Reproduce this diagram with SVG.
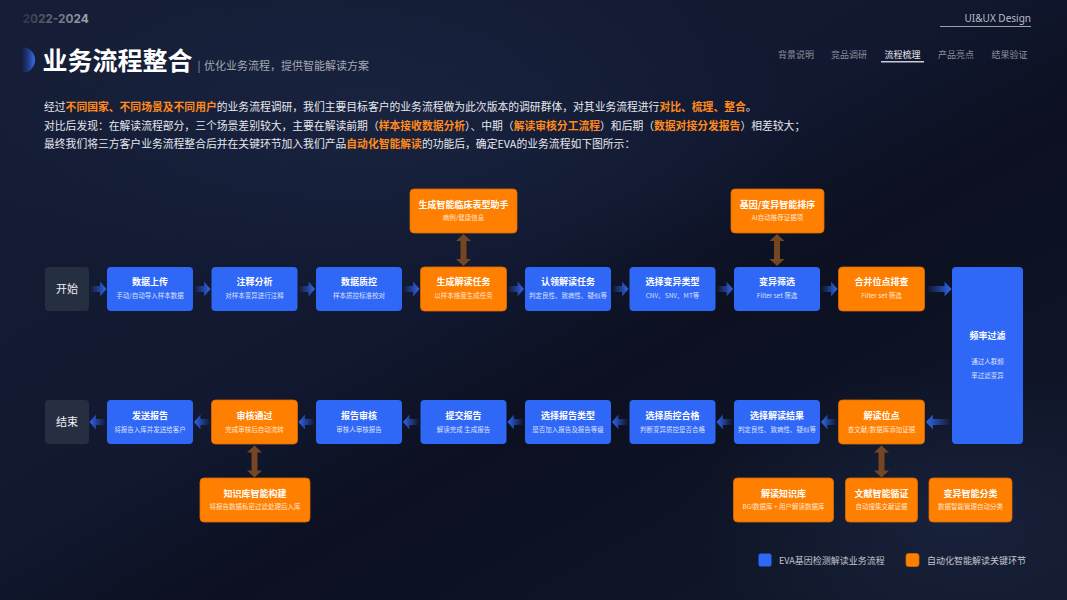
<svg xmlns="http://www.w3.org/2000/svg" width="1067" height="600" viewBox="0 0 1067 600">
<defs>
<linearGradient id="bg" x1="0" y1="0" x2="1" y2="1">
<stop offset="0" stop-color="#161e37"/>
<stop offset="0.45" stop-color="#111830"/>
<stop offset="0.6" stop-color="#0c1020"/>
<stop offset="1" stop-color="#121a2e"/>
</linearGradient>
<radialGradient id="glow1" cx="0.5" cy="0.5" r="0.5">
<stop offset="0" stop-color="#1e2a48" stop-opacity="0.55"/>
<stop offset="1" stop-color="#1e2a48" stop-opacity="0"/>
</radialGradient>
<linearGradient id="ag" x1="0" y1="0" x2="1" y2="0">
<stop offset="0" stop-color="#2e5fe0" stop-opacity="0"/>
<stop offset="1" stop-color="#3266ee"/>
</linearGradient>
<linearGradient id="yr" x1="0" y1="0" x2="1" y2="0">
<stop offset="0" stop-color="#2c3345"/>
<stop offset="1" stop-color="#a3a8b4"/>
</linearGradient>
<linearGradient id="semi" x1="0" y1="0" x2="1" y2="0">
<stop offset="0" stop-color="#1d3c9a" stop-opacity="0.1"/>
<stop offset="1" stop-color="#3d70f8"/>
</linearGradient>
<path id="arr" d="M0,-3 H10 V-7.5 L16.5,0 L10,7.5 V3 H0 Z" fill="url(#ag)"/>
<path id="arrL" d="M0,-3 H18 V-7.5 L25,0 L18,7.5 V3 H0 Z" fill="url(#ag)"/>
<path id="dbl" d="M0,0 L7.5,7 H3 V25 H7.5 L0,32 L-7.5,25 H-3 V7 H-7.5 Z" fill="#744622"/>
</defs>
<style>
.b{fill:#2f67f6}
.o{fill:#ff8000;stroke:#d86a05;stroke-width:0.8}
.g{fill:#262e41}
.t{font-family:"Noto Sans CJK SC","Noto Sans",sans-serif;font-weight:700;font-size:9px;fill:#ffffff;text-anchor:middle}
.s{font-family:"Noto Sans CJK SC","Noto Sans",sans-serif;font-size:6.5px;fill:#ffffff;fill-opacity:0.82;text-anchor:middle}
.se{font-family:"Noto Sans CJK SC","Noto Sans",sans-serif;font-size:11px;fill:#eef0f5;text-anchor:middle}
.nav{font-family:"Noto Sans CJK SC","Noto Sans",sans-serif;font-size:9px;fill:#8c909b;text-anchor:middle}
.p{font-family:"Noto Sans CJK SC","Noto Sans",sans-serif;font-size:10.8px;fill:#e6e8ee}
.h{fill:#ff8a1c;font-weight:700}
.lg{font-family:"Noto Sans CJK SC","Noto Sans",sans-serif;font-size:9px;fill:#c4c7cf}
</style>
<rect width="1067" height="600" fill="url(#bg)"/>
<ellipse cx="380" cy="120" rx="420" ry="180" fill="url(#glow1)"/>
<ellipse cx="950" cy="520" rx="260" ry="150" fill="url(#glow1)"/>

<g id="header">
<text x="22.5" y="23.3" font-family="Inter,'Liberation Sans',sans-serif" font-weight="700" font-size="11.8" fill="url(#yr)">2022-2024</text>
<text x="1031" y="21.5" font-family="'Noto Sans',sans-serif" font-size="10" fill="#b9bdc7" text-anchor="end">UI&amp;UX Design</text>
<line x1="940" y1="26.5" x2="1031" y2="26.5" stroke="#9aa0ad" stroke-width="1"/>
<text class="nav" x="796" y="58">背景说明</text>
<text class="nav" x="849" y="58">竞品调研</text>
<text class="nav" x="902.5" y="58" style="fill:#e8eaf0">流程梳理</text>
<line x1="881" y1="61.8" x2="924" y2="61.8" stroke="#c8ccd5" stroke-width="1.5"/>
<text class="nav" x="956" y="58">产品亮点</text>
<text class="nav" x="1009.5" y="58">结果验证</text>
<path d="M22,47 A13,13 0 0 1 22,73 Z" fill="url(#semi)"/>
<text x="42.5" y="70" font-family="'Noto Sans CJK SC',sans-serif" font-weight="700" font-size="25" fill="#ffffff">业务流程整合</text>
<text x="197.5" y="69.5" font-family="'Noto Sans CJK SC',sans-serif" font-size="11" fill="#9a9ea9">|</text>
<text x="204" y="69.5" font-family="'Noto Sans CJK SC',sans-serif" font-size="11" fill="#a4a8b2">优化业务流程，提供智能解读方案</text>
</g>

<g id="intro">
<text class="p" x="44" y="111.3">经过<tspan class="h">不同国家、不同场景及不同用户</tspan>的业务流程调研，我们主要目标客户的业务流程做为此次版本的调研群体，对其业务流程进行<tspan class="h">对比、梳理、整合</tspan>。</text>
<text class="p" x="44" y="130">对比后发现：在解读流程部分，三个场景差别较大，主要在解读前期（<tspan class="h">样本接收数据分析</tspan>）、中期（<tspan class="h">解读审核分工流程</tspan>）和后期（<tspan class="h">数据对接分发报告</tspan>）相差较大；</text>
<text class="p" x="44" y="148">最终我们将三方客户业务流程整合后并在关键环节加入我们产品<tspan class="h">自动化智能解读</tspan>的功能后，确定EVA的业务流程如下图所示：</text>
</g>

<g id="connectors">
<use href="#arr" transform="translate(90,289)"/>
<use href="#arr" transform="translate(194,289)"/>
<use href="#arr" transform="translate(298.5,289)"/>
<use href="#arr" transform="translate(403,289)"/>
<use href="#arr" transform="translate(507.5,289)"/>
<use href="#arr" transform="translate(612,289)"/>
<use href="#arr" transform="translate(716.5,289)"/>
<use href="#arr" transform="translate(821,289)"/>
<use href="#arrL" transform="translate(926.5,289)"/>
<use href="#arrL" transform="translate(951,422) scale(-1,1)"/>
<use href="#arr" transform="translate(837.5,422) scale(-1,1)"/>
<use href="#arr" transform="translate(733,422) scale(-1,1)"/>
<use href="#arr" transform="translate(628.5,422) scale(-1,1)"/>
<use href="#arr" transform="translate(524,422) scale(-1,1)"/>
<use href="#arr" transform="translate(419.5,422) scale(-1,1)"/>
<use href="#arr" transform="translate(315,422) scale(-1,1)"/>
<use href="#arr" transform="translate(210.5,422) scale(-1,1)"/>
<use href="#arr" transform="translate(106,422) scale(-1,1)"/>
<use href="#dbl" transform="translate(463.5,234)"/>
<use href="#dbl" transform="translate(777,234)"/>
<use href="#dbl" transform="translate(254.5,445.5)"/>
<use href="#dbl" transform="translate(881.5,445.5)"/>
</g>

<g id="start"><rect class="g" x="45" y="267" width="44" height="44" rx="4"/><text class="se" x="67" y="293">开始</text></g>
<g id="n1"><rect class="b" x="107" y="267" width="86" height="44" rx="4"/><text class="t" x="150" y="285.3">数据上传</text><text class="s" x="150" y="298.3">手动/自动导入样本数据</text></g>
<g id="n2"><rect class="b" x="211.5" y="267" width="86" height="44" rx="4"/><text class="t" x="254.5" y="285.3">注释分析</text><text class="s" x="254.5" y="298.3">对样本变异进行注释</text></g>
<g id="n3"><rect class="b" x="316" y="267" width="86" height="44" rx="4"/><text class="t" x="359" y="285.3">数据质控</text><text class="s" x="359" y="298.3">样本质控标准校对</text></g>
<g id="n4"><rect class="o" x="420.5" y="267" width="86" height="44" rx="4"/><text class="t" x="463.5" y="285.3">生成解读任务</text><text class="s" x="463.5" y="298.3">以样本维度生成任务</text></g>
<g id="n5"><rect class="b" x="525" y="267" width="86" height="44" rx="4"/><text class="t" x="568" y="285.3">认领解读任务</text><text class="s" x="568" y="298.3">判定良性、致病性、疑似等</text></g>
<g id="n6"><rect class="b" x="629.5" y="267" width="86" height="44" rx="4"/><text class="t" x="672.5" y="285.3">选择变异类型</text><text class="s" x="672.5" y="298.3">CNV、SNV、MT等</text></g>
<g id="n7"><rect class="b" x="734" y="267" width="86" height="44" rx="4"/><text class="t" x="777" y="285.3">变异筛选</text><text class="s" x="777" y="298.3">Filter set 筛选</text></g>
<g id="n8"><rect class="o" x="838.5" y="267" width="86" height="44" rx="4"/><text class="t" x="881.5" y="285.3">合并位点排查</text><text class="s" x="881.5" y="298.3">Filter set 筛选</text></g>
<g id="n9"><rect class="b" x="952" y="267" width="71" height="177" rx="4"/><text class="t" x="987.5" y="339">频率过滤</text><text class="s" x="987.5" y="364">通过人群频</text><text class="s" x="987.5" y="378">率过滤变异</text></g>

<g id="a1"><rect class="o" x="410" y="189" width="107" height="44" rx="4"/><text class="t" x="463.5" y="208.2">生成智能临床表型助手</text><text class="s" x="463.5" y="219.8">病例/健康信息</text></g>
<g id="a2"><rect class="o" x="731" y="189" width="93" height="44" rx="4"/><text class="t" x="777.5" y="208.2">基因/变异智能排序</text><text class="s" x="777.5" y="219.8">AI自动推荐证据项</text></g>

<g id="b1"><rect class="o" x="838.5" y="400" width="86" height="44" rx="4"/><text class="t" x="881.5" y="419.2">解读位点</text><text class="s" x="881.5" y="431.5">查文献/数据库添加证据</text></g>
<g id="b2"><rect class="b" x="734" y="400" width="86" height="44" rx="4"/><text class="t" x="777" y="419.2">选择解读结果</text><text class="s" x="777" y="431.5">判定良性、致病性、疑似等</text></g>
<g id="b3"><rect class="b" x="629.5" y="400" width="86" height="44" rx="4"/><text class="t" x="672.5" y="419.2">选择质控合格</text><text class="s" x="672.5" y="431.5">判断变异质控是否合格</text></g>
<g id="b4"><rect class="b" x="525" y="400" width="86" height="44" rx="4"/><text class="t" x="568" y="419.2">选择报告类型</text><text class="s" x="568" y="431.5">是否加入报告及报告等级</text></g>
<g id="b5"><rect class="b" x="420.5" y="400" width="86" height="44" rx="4"/><text class="t" x="463.5" y="419.2">提交报告</text><text class="s" x="463.5" y="431.5">解读完成 生成报告</text></g>
<g id="b6"><rect class="b" x="316" y="400" width="86" height="44" rx="4"/><text class="t" x="359" y="419.2">报告审核</text><text class="s" x="359" y="431.5">审核人审核报告</text></g>
<g id="b7"><rect class="o" x="211.5" y="400" width="86" height="44" rx="4"/><text class="t" x="254.5" y="419.2">审核通过</text><text class="s" x="254.5" y="431.5">完成审核后自动流转</text></g>
<g id="b8"><rect class="b" x="107" y="400" width="86" height="44" rx="4"/><text class="t" x="150" y="419.2">发送报告</text><text class="s" x="150" y="431.5">将报告入库并发送给客户</text></g>
<g id="end"><rect class="g" x="45" y="400" width="44" height="44" rx="4"/><text class="se" x="67" y="426">结束</text></g>

<g id="c1"><rect class="o" x="200" y="478" width="110" height="44" rx="4"/><text class="t" x="255" y="496.5">知识库智能构建</text><text class="s" x="255" y="509.2">将报告数据私密过滤处理后入库</text></g>
<g id="c2"><rect class="o" x="733.5" y="478" width="100" height="44" rx="4"/><text class="t" x="783.5" y="496.5">解读知识库</text><text class="s" x="783.5" y="509.2">BGI数据库 + 用户解读数据库</text></g>
<g id="c3"><rect class="o" x="845.5" y="478" width="72" height="44" rx="4"/><text class="t" x="881.5" y="496.5">文献智能循证</text><text class="s" x="881.5" y="509.2">自动搜集文献证据</text></g>
<g id="c4"><rect class="o" x="929" y="478" width="83" height="44" rx="4"/><text class="t" x="970.5" y="496.5">变异智能分类</text><text class="s" x="970.5" y="509.2">数据智能管理自动分类</text></g>

<g id="legend">
<rect class="b" x="758.5" y="553.5" width="13" height="13" rx="2.5"/>
<text class="lg" x="779" y="563.8">EVA基因检测解读业务流程</text>
<rect class="o" x="906" y="553.5" width="13" height="13" rx="2.5"/>
<text class="lg" x="927" y="563.8">自动化智能解读关键环节</text>
</g>
</svg>
